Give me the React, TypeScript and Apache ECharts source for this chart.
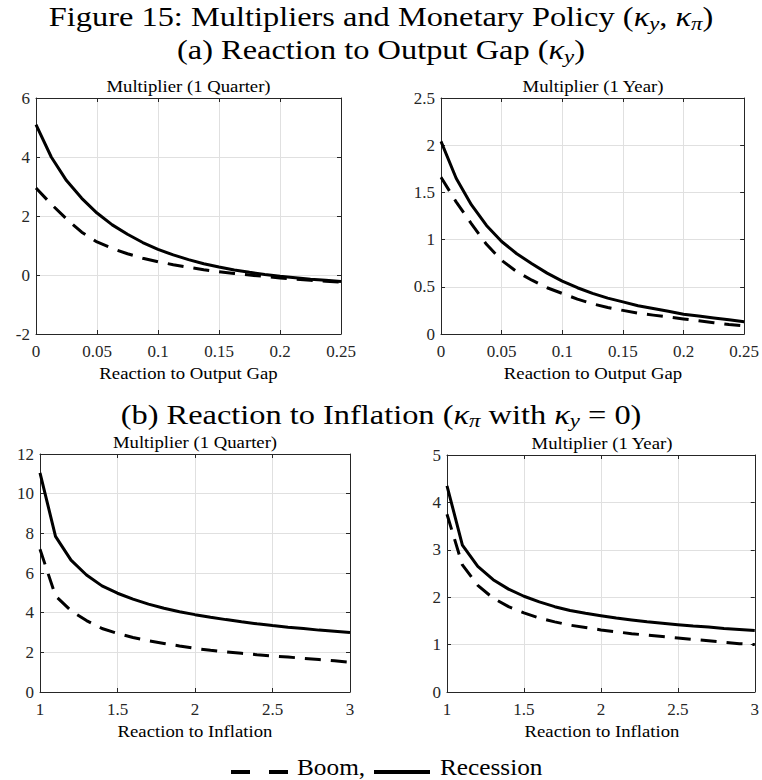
import React, { useEffect, useRef } from "react";
import * as echarts from "echarts";

// ---- data ----
const gapX = [0, 0.0125, 0.025, 0.0375, 0.05, 0.0625, 0.075, 0.0875, 0.1, 0.1125, 0.125, 0.1375, 0.15, 0.1625, 0.175, 0.1875, 0.2, 0.2125, 0.225, 0.2375, 0.25];
const inflX = [1.0, 1.1, 1.2, 1.3, 1.4, 1.5, 1.6, 1.7, 1.8, 1.9, 2.0, 2.1, 2.2, 2.3, 2.4, 2.5, 2.6, 2.7, 2.8, 2.9, 3.0];

const recessionQuarterGap = [5.1, 4.0, 3.2, 2.6, 2.1, 1.7, 1.38, 1.1, 0.87, 0.68, 0.52, 0.38, 0.27, 0.17, 0.09, 0.02, -0.04, -0.09, -0.14, -0.18, -0.22];
const boomQuarterGap = [2.95, 2.4, 1.9, 1.45, 1.12, 0.9, 0.72, 0.57, 0.45, 0.35, 0.26, 0.18, 0.11, 0.05, 0.0, -0.05, -0.1, -0.14, -0.18, -0.21, -0.24];

const recessionYearGap = [2.04, 1.65, 1.37, 1.15, 0.98, 0.85, 0.745, 0.645, 0.56, 0.49, 0.43, 0.38, 0.34, 0.3, 0.27, 0.24, 0.21, 0.19, 0.17, 0.15, 0.13];
const boomYearGap = [1.66, 1.4, 1.17, 0.95, 0.78, 0.66, 0.57, 0.49, 0.43, 0.37, 0.32, 0.28, 0.25, 0.22, 0.2, 0.18, 0.16, 0.14, 0.12, 0.1, 0.085];

const recessionQuarterInfl = [11.05, 7.85, 6.65, 5.9, 5.35, 4.98, 4.68, 4.43, 4.22, 4.05, 3.9, 3.77, 3.65, 3.54, 3.44, 3.35, 3.27, 3.2, 3.12, 3.06, 3.0];
const boomQuarterInfl = [7.2, 4.85, 4.1, 3.6, 3.2, 2.95, 2.75, 2.58, 2.45, 2.32, 2.2, 2.1, 2.02, 1.95, 1.88, 1.82, 1.76, 1.7, 1.64, 1.57, 1.5];

const recessionYearInfl = [4.35, 3.1, 2.65, 2.37, 2.17, 2.02, 1.9, 1.8, 1.72, 1.66, 1.61, 1.56, 1.52, 1.48, 1.45, 1.42, 1.39, 1.37, 1.34, 1.32, 1.3];
const boomYearInfl = [3.75, 2.68, 2.25, 1.98, 1.8, 1.67, 1.56, 1.48, 1.41, 1.36, 1.31, 1.27, 1.23, 1.2, 1.17, 1.14, 1.11, 1.08, 1.05, 1.02, 1.0];

const panelTitles = ["Multiplier (1 Quarter)", "Multiplier (1 Year)", "Multiplier (1 Quarter)", "Multiplier (1 Year)"];
const xNames = ["Reaction to Output Gap", "Reaction to Output Gap", "Reaction to Inflation", "Reaction to Inflation"];
const legendNames = ["Boom,", "Recession"];

const SERIF = "Liberation Serif";
const AX = "#262626";

const pairs = (xs: number[], ys: number[]) => xs.map((x, i) => [x, ys[i]]);

export default function App() {
  const ref = useRef<HTMLDivElement>(null);
  useEffect(() => {
    if (!ref.current) return;
    const chart = echarts.init(ref.current, undefined, { renderer: "svg" });

    const grids = [
      { left: 36, top: 98, width: 305, height: 236 },
      { left: 441, top: 98, width: 304, height: 236 },
      { left: 40, top: 454, width: 310, height: 238 },
      { left: 447, top: 455, width: 310, height: 237 },
    ];
    const xCfg = [
      { min: 0, max: 0.25, interval: 0.05 },
      { min: 0, max: 0.25, interval: 0.05 },
      { min: 1, max: 3, interval: 0.5 },
      { min: 1, max: 3, interval: 0.5 },
    ];
    const yCfg = [
      { min: -2, max: 6, interval: 2 },
      { min: 0, max: 2.5, interval: 0.5 },
      { min: 0, max: 12, interval: 2 },
      { min: 0, max: 5, interval: 1 },
    ];
    const dataSets = [
      [boomQuarterGap, recessionQuarterGap, gapX],
      [boomYearGap, recessionYearGap, gapX],
      [boomQuarterInfl, recessionQuarterInfl, inflX],
      [boomYearInfl, recessionYearInfl, inflX],
    ];

    const xAxes: any[] = [];
    const yAxes: any[] = [];
    const series: any[] = [];
    grids.forEach((g, i) => {
      const common = {
        gridIndex: i,
        type: "value",
        axisLine: { show: true, onZero: false, lineStyle: { color: AX, width: 1 } },
        axisTick: { show: true, inside: true, length: 4, lineStyle: { color: AX, width: 1 } },
      };
      xAxes.push({
        ...common,
        ...xCfg[i],
        position: "bottom",
        splitLine: { show: true, lineStyle: { color: "#e0e0e0", width: 1 } },
        axisLabel: { fontFamily: SERIF, fontSize: 17, color: AX, margin: 9 },
      });
      xAxes.push({
        ...common,
        ...xCfg[i],
        position: "top",
        splitLine: { show: false },
        axisLabel: { show: false },
      });
      yAxes.push({
        ...common,
        ...yCfg[i],
        position: "left",
        splitLine: { show: true, lineStyle: { color: "#e0e0e0", width: 1 } },
        axisLabel: { fontFamily: SERIF, fontSize: 17, color: AX, margin: 6 },
      });
      yAxes.push({
        ...common,
        ...yCfg[i],
        position: "right",
        splitLine: { show: false },
        axisLabel: { show: false },
      });
      const [boom, rec, xs] = dataSets[i] as number[][];
      series.push({
        type: "line",
        name: legendNames[0],
        xAxisIndex: 2 * i,
        yAxisIndex: 2 * i,
        data: pairs(xs, boom),
        showSymbol: false,
        symbol: "none",
        lineStyle: { color: "#000", width: 3, type: [16, 10] },
      });
      series.push({
        type: "line",
        name: legendNames[1],
        xAxisIndex: 2 * i,
        yAxisIndex: 2 * i,
        data: pairs(xs, rec),
        showSymbol: false,
        symbol: "none",
        lineStyle: { color: "#000", width: 3 },
      });
    });

    const big = 27;
    const rich = {
      t: { fontFamily: SERIF, fontSize: big, lineHeight: 26, fill: "#000", verticalAlign: "middle" },
      k: { fontFamily: SERIF, fontSize: big, fontStyle: "italic", lineHeight: 26, fill: "#000", verticalAlign: "middle" },
      s: { fontFamily: SERIF, fontSize: 19, fontStyle: "italic", lineHeight: 19, fill: "#000", verticalAlign: "bottom", padding: [0, 0, 0, 0] },
      gap: { fontSize: 10, lineHeight: 33, verticalAlign: "middle" },
    };
    // line height trick: each line contains an invisible zero-width 'gap' token of height 33
    const headText = (text: string, y: number) => ({
      type: "text",
      x: 381,
      y,
      scaleX: 1.2,
      style: { text, rich, fontFamily: SERIF, fontSize: big, textAlign: "center", textVerticalAlign: "middle", fill: "#000" },
    });
    const small = (text: string, x: number, y: number) => ({
      type: "text",
      x,
      y,
      scaleX: 1.17,
      style: { text, fontFamily: SERIF, fontSize: 16, fill: "#000", textAlign: "center", textVerticalAlign: "middle" },
    });
    const centers = grids.map((g) => g.left + g.width / 2);

    const graphic: any[] = [
      headText(
        "{gap|}{t|Figure 15: Multipliers and Monetary Policy (}{k|κ}{s|y}{t|, }{k|κ}{s|π}{t|)}\n{gap|}{t|(a) Reaction to Output Gap (}{k|κ}{s|y}{t|)}",
        33
      ),
      headText("{gap|}{t|(b) Reaction to Inflation (}{k|κ}{s|π}{t| with }{k|κ}{s|y}{t| = 0)}", 414),
      small(panelTitles[0], centers[0], 86),
      small(panelTitles[1], centers[1], 86),
      small(panelTitles[2], centers[2], 442),
      small(panelTitles[3], centers[3], 443),
      small(xNames[0], centers[0], 373),
      small(xNames[1], centers[1], 373),
      small(xNames[2], centers[2], 731),
      small(xNames[3], centers[3], 731),
      {
        type: "line",
        shape: { x1: 231, y1: 772, x2: 288, y2: 772 },
        style: { stroke: "#000", lineWidth: 4, lineDash: [19, 19] },
      },
      {
        type: "text",
        x: 297,
        y: 767,
        scaleX: 1.1,
        style: { text: legendNames[0], fontFamily: SERIF, fontSize: 23, fill: "#000", textAlign: "left", textVerticalAlign: "middle" },
      },
      {
        type: "line",
        shape: { x1: 374, y1: 772, x2: 430, y2: 772 },
        style: { stroke: "#000", lineWidth: 4 },
      },
      {
        type: "text",
        x: 440,
        y: 767,
        scaleX: 1.1,
        style: { text: legendNames[1], fontFamily: SERIF, fontSize: 23, fill: "#000", textAlign: "left", textVerticalAlign: "middle" },
      },
    ];

    chart.setOption({
      animation: false,
      backgroundColor: "#fff",
      grid: grids,
      xAxis: xAxes,
      yAxis: yAxes,
      series,
      graphic,
    });
    return () => chart.dispose();
  }, []);

  return <div ref={ref} style={{ width: 762, height: 780, position: "absolute", left: 0, top: 0 }} />;
}
